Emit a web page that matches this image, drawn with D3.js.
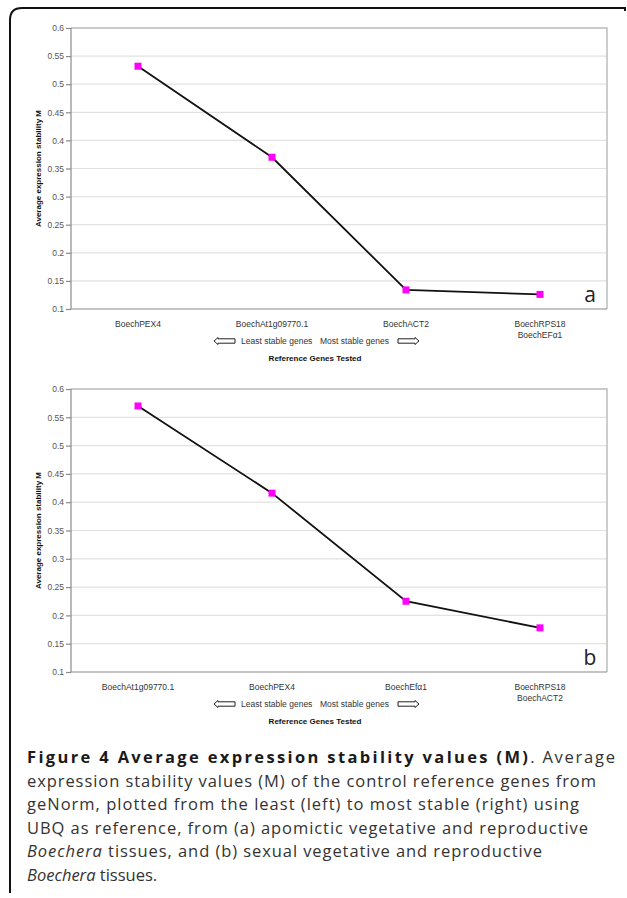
<!DOCTYPE html>
<html>
<head>
<meta charset="utf-8">
<script src="https://cdn.jsdelivr.net/npm/d3@7"></script>
<style>
  body { margin: 0; background: #fff; }
  svg { display: block; }
</style>
</head>
<body>
<div id="chart"></div>
<script>
// panel a
var catsA = ["BoechPEX4", "BoechAt1g09770.1", "BoechACT2", "BoechRPS18|BoechEFα1"];
var valsA = [0.532, 0.370, 0.134, 0.126];
// panel b
var catsB = ["BoechAt1g09770.1", "BoechPEX4", "BoechEfα1", "BoechRPS18|BoechACT2"];
var valsB = [0.570, 0.416, 0.225, 0.178];
var yTicks = [0.1, 0.15, 0.2, 0.25, 0.3, 0.35, 0.4, 0.45, 0.5, 0.55, 0.6];

var W = 627, H = 898;
var svg = d3.select("#chart").append("svg").attr("width", W).attr("height", H);

// page frame (open on the right and bottom)
svg.append("path")
	.attr("d", "M10,893 L10,20 Q10,8 22,8 L625,8 L625,11")
	.attr("fill", "none")
	.attr("stroke", "#111")
	.attr("stroke-width", 2);

var chartFont = "'Liberation Sans', Arial, sans-serif";

function drawPanel(top, bottom, cats, vals, letter) {
	var left = 71, right = 607;
	var x = d3.scaleBand().domain(cats).range([left, right]);
	var y = d3.scaleLinear().domain([0.1, 0.6]).range([bottom, top]);
	var g = svg.append("g");

	// grid
	g.selectAll(".grid").data(yTicks.slice(1)).enter().append("line")
		.attr("x1", left).attr("x2", right)
		.attr("y1", function (d) { return y(d); })
		.attr("y2", function (d) { return y(d); })
		.attr("stroke", "#e2e2e2").attr("stroke-width", 1.2);

	// plot border top/right
	g.append("path")
		.attr("d", "M" + left + "," + top + "H" + right + "V" + bottom)
		.attr("fill", "none").attr("stroke", "#bdbdbd").attr("stroke-width", 1.5);

	// y axis
	var yAxis = g.append("g").attr("transform", "translate(" + left + ",0)")
		.call(d3.axisLeft(y).tickValues(yTicks).tickSize(5).tickPadding(2)
			.tickFormat(function (d) { return String(+d.toFixed(2)); }));
	yAxis.selectAll("path, line").attr("stroke", "#8a8a8a").attr("stroke-width", 1.2);
	yAxis.select(".domain").attr("d", "M0," + top + "V" + bottom);
	yAxis.selectAll("text").attr("fill", "#555").style("font", "8.5px " + chartFont);

	// x axis line
	g.append("line").attr("x1", left).attr("x2", right)
		.attr("y1", bottom).attr("y2", bottom)
		.attr("stroke", "#8a8a8a").attr("stroke-width", 1.2);

	// category labels
	var lab = g.selectAll(".cat").data(cats).enter().append("text")
		.attr("text-anchor", "middle")
		.attr("fill", "#333")
		.style("font", "8.5px " + chartFont);
	lab.each(function (d) {
		var parts = d.split("|");
		var t = d3.select(this);
		parts.forEach(function (p, i) {
			t.append("tspan")
				.attr("x", x(d) + x.bandwidth() / 2)
				.attr("y", bottom + 18 + i * 10.5)
				.text(p);
		});
	});

	// line + markers
	var pts = cats.map(function (c, i) { return [x(c) + x.bandwidth() / 2, y(vals[i])]; });
	g.append("path")
		.attr("d", d3.line()(pts))
		.attr("fill", "none").attr("stroke", "#111").attr("stroke-width", 1.8);
	g.selectAll(".pt").data(pts).enter().append("rect")
		.attr("x", function (d) { return d[0] - 3.5; })
		.attr("y", function (d) { return d[1] - 3.5; })
		.attr("width", 7).attr("height", 7)
		.attr("fill", "#ff00ff");

	// y title
	g.append("text")
		.attr("transform", "translate(" + 41 + "," + ((top + bottom) / 2) + ") rotate(-90)")
		.attr("text-anchor", "middle")
		.attr("fill", "#111")
		.style("font", "bold 8px " + chartFont)
		.text("Average expression stability M");

	// stability legend
	var ly = bottom + 32;
	var arrow = function (x0, dir) {
		var len = 21, h = 2.2, head = 4;
		var p;
		if (dir < 0) {
			p = [[x0, ly], [x0 + head, ly - h - 1.3], [x0 + head, ly - h], [x0 + len, ly - h],
				[x0 + len, ly + h], [x0 + head, ly + h], [x0 + head, ly + h + 1.3]];
		} else {
			p = [[x0 + len, ly], [x0 + len - head, ly - h - 1.3], [x0 + len - head, ly - h], [x0, ly - h],
				[x0, ly + h], [x0 + len - head, ly + h], [x0 + len - head, ly + h + 1.3]];
		}
		g.append("path").attr("d", d3.line()(p) + "Z")
			.attr("fill", "#fff").attr("stroke", "#222").attr("stroke-width", 1);
	};
	arrow(214, -1);
	arrow(398, 1);
	g.append("text").attr("x", 241).attr("y", ly + 3)
		.attr("fill", "#333").style("font", "8.5px " + chartFont)
		.text("Least stable genes");
	g.append("text").attr("x", 389).attr("y", ly + 3)
		.attr("text-anchor", "end")
		.attr("fill", "#333").style("font", "8.5px " + chartFont)
		.text("Most stable genes");
	g.append("text").attr("x", 315).attr("y", bottom + 52)
		.attr("text-anchor", "middle")
		.attr("fill", "#111").style("font", "bold 8px " + chartFont)
		.text("Reference Genes Tested");

	// panel letter
	g.append("text").attr("x", 590).attr("y", bottom - 7)
		.attr("text-anchor", "middle")
		.attr("fill", "#222").style("font", "21px 'Open Sans', sans-serif")
		.text(letter);
}

drawPanel(28, 309, catsA, valsA, "a");
drawPanel(389, 672, catsB, valsB, "b");

// caption
var capFont = "'Open Sans', sans-serif";
var capLines = [
	{ w: 588, parts: [{ t: "Figure 4 Average expression stability values (M)", b: true }, { t: ". Average" }] },
	{ w: 569, parts: [{ t: "expression stability values (M) of the control reference genes from" }] },
	{ w: 552, parts: [{ t: "geNorm, plotted from the least (left) to most stable (right) using" }] },
	{ w: 561, parts: [{ t: "UBQ as reference, from (a) apomictic vegetative and reproductive" }] },
	{ w: 515, parts: [{ t: "Boechera", i: true }, { t: " tissues, and (b) sexual vegetative and reproductive" }] },
	{ w: 0, parts: [{ t: "Boechera", i: true }, { t: " tissues." }] }
];
capLines.forEach(function (ln, k) {
	var t = svg.append("text")
		.attr("x", 27).attr("y", 763 + k * 23.5)
		.attr("fill", "#333")
		.style("font", "16.5px " + capFont);
	if (ln.w) t.attr("textLength", ln.w).attr("lengthAdjust", "spacing");
	ln.parts.forEach(function (p) {
		var s = t.append("tspan").text(p.t);
		if (p.b) s.attr("font-weight", "bold").attr("fill", "#1a1a1a").attr("letter-spacing", "0.6px");
		if (p.i) s.attr("font-style", "italic");
	});
});
</script>
</body>
</html>
